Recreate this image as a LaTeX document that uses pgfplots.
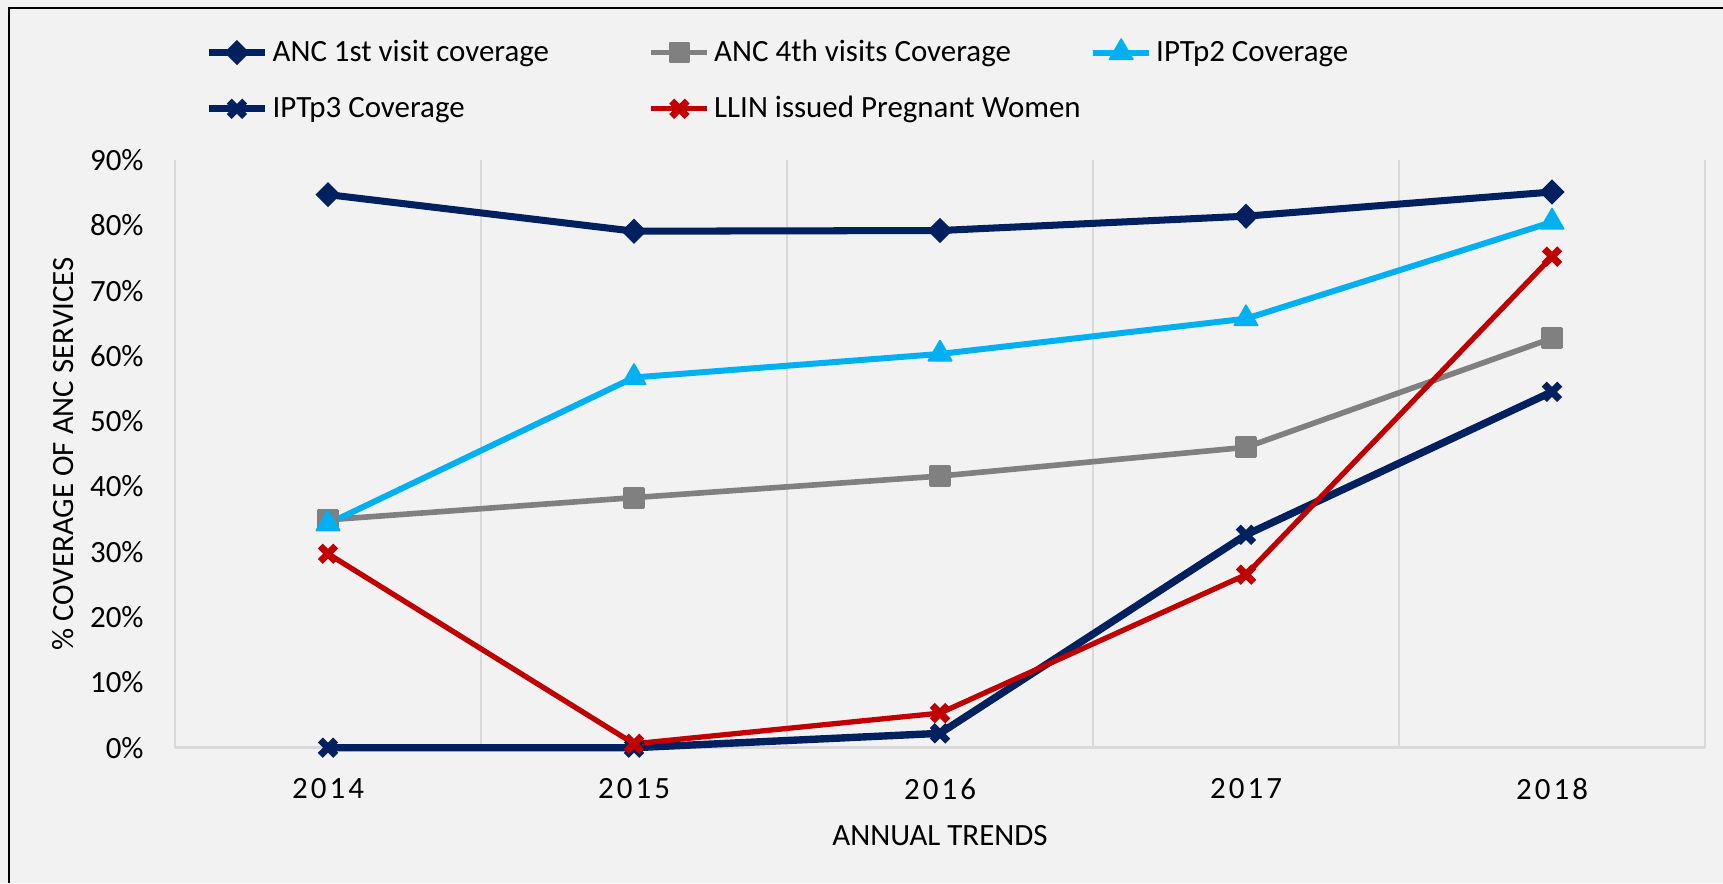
\documentclass[border=0pt]{standalone}
\usepackage{fontspec}
\setmainfont{Carlito}
\usepackage{pgfplots}
\pgfplotsset{compat=1.18}
\definecolor{navy}{HTML}{002060}
\definecolor{gry}{HTML}{808080}
\definecolor{cyanx}{HTML}{00B0F0}
\definecolor{redx}{HTML}{C00000}
\definecolor{bg}{HTML}{F2F2F2}
\definecolor{gridc}{HTML}{D9D9D9}
\newcommand{\ls}{\addfontfeature{LetterSpace=10}}
\newcommand{\legbox}[1]{\makebox[3.72cm][l]{#1}}
\begin{document}
\begin{tikzpicture}[font=\fontsize{8.8}{11}\selectfont]
\fill[bg] (-1.75,-1.353) rectangle (15.48,7.477);
\draw[black, line width=0.6pt] (-1.66,-1.353) -- (-1.66,7.397) -- (15.48,7.397);
\begin{axis}[
  at={(0,0)}, anchor=south west,
  scale only axis, width=15.30cm, height=5.877cm,
  xmin=-0.5, xmax=4.5, ymin=0, ymax=90,
  axis x line*=bottom, axis y line*=left,
  x axis line style={draw=gridc, line width=0.8pt, -},
  y axis line style={draw=none, -},
  xtick={0,1,2,3,4},
  xticklabels={{\ls 2014},{\ls 2015},{\ls 2016},{\ls 2017},{\ls 2018}},
  ytick={0,10,20,30,40,50,60,70,80,90},
  yticklabels={0\%,10\%,20\%,30\%,40\%,50\%,60\%,70\%,80\%,90\%},
  major tick length=0pt, minor tick length=0pt,
  minor xtick={-0.5,0.5,1.5,2.5,3.5,4.5},
  xminorgrids, minor x grid style={draw=gridc, line width=0.8pt},
  xticklabel style={anchor=center, inner sep=0pt, yshift=-0.413cm},
  yticklabel style={anchor=east, inner sep=0pt, xshift=-0.307cm},
  xlabel={ANNUAL TRENDS},
  xlabel style={at={(axis description cs:0.5,-0.150)}, anchor=center, inner sep=0pt},
  ylabel={\% COVERAGE OF ANC SERVICES},
  ylabel style={at={(axis description cs:-0.0729,0.5)}, anchor=center, inner sep=0pt},
  legend columns=3,
  legend cell align=left,
  legend style={at={(axis description cs:0.0193,1.135)}, anchor=west, draw=none, fill=none,
    inner sep=0pt, column sep=0pt, row sep=7pt,
    nodes={inner xsep=0.04cm, inner ysep=0pt, text height=7pt, text depth=2pt}},
  legend image code/.code={\draw[mark repeat=2,mark phase=2,#1] plot coordinates {(0cm,0cm)(0.28cm,0cm)(0.56cm,0cm)};},
  clip=false,
]
\addplot[color=navy, line width=2pt, mark=diamond*, mark size=3.3pt, mark options={xscale=1.33, line width=0.4pt}]
  coordinates {(0,84.7)(1,79.1)(2,79.2)(3,81.4)(4,85.1)};
\addlegendentry{\legbox{ANC 1st visit coverage}}
\addplot[color=gry, line width=1.6pt, mark=square*, mark size=2.7pt, mark options={line width=0.8pt, line join=round}]
  coordinates {(0,34.9)(1,38.3)(2,41.6)(3,46.0)(4,62.7)};
\addlegendentry{\legbox{ANC 4th visits Coverage}}
\addplot[color=cyanx, line width=1.7pt, mark=triangle*, mark size=3.8pt, mark options={line width=0.5pt, line join=round}]
  coordinates {(0,34.3)(1,56.7)(2,60.3)(3,65.7)(4,80.5)};
\addlegendentry{\legbox{IPTp2 Coverage}}
\addplot[color=navy, line width=2.1pt, mark=x, mark size=3.1pt, mark options={line width=2pt}]
  coordinates {(0,0)(1,0)(2,2.2)(3,32.6)(4,54.5)};
\addlegendentry{\legbox{IPTp3 Coverage}}
\addplot[color=redx, line width=1.5pt, mark=x, mark size=3.1pt, mark options={line width=2pt}]
  coordinates {(0,29.7)(1,0.6)(2,5.3)(3,26.5)(4,75.2)};
\addlegendentry{\legbox{LLIN issued Pregnant Women}}
\end{axis}
\pgfresetboundingbox
\path[use as bounding box] (-1.75,-1.353) rectangle (15.48,7.477);
\end{tikzpicture}
\end{document}
